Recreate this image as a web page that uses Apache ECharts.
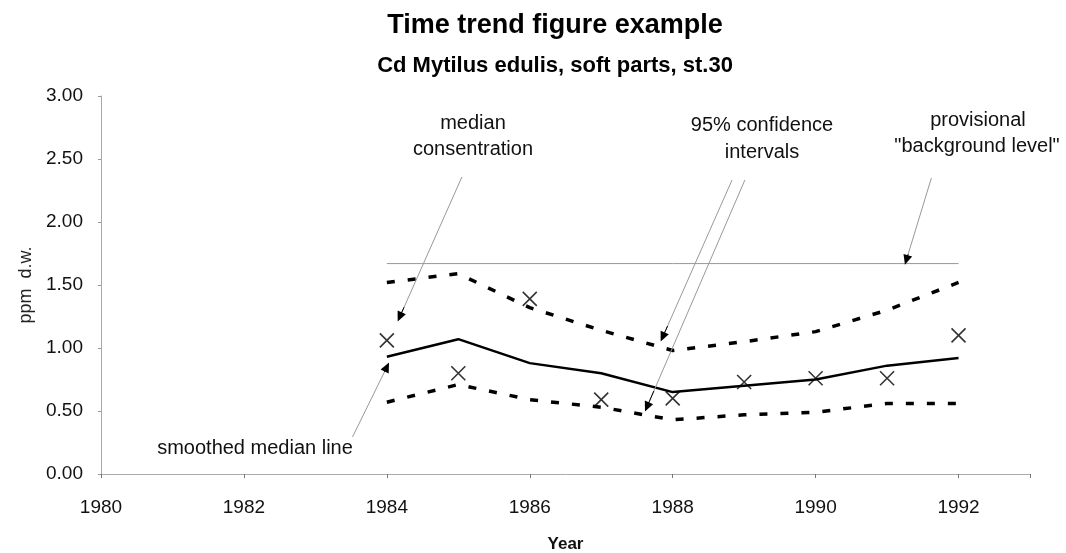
<!DOCTYPE html>
<html>
<head>
<meta charset="utf-8">
<script src="https://cdn.jsdelivr.net/npm/echarts@6/dist/echarts.min.js"></script>
<style>
html,body{margin:0;padding:0;background:#fff;}
#chart{width:1066px;height:553px;}
</style>
</head>
<body>
<div id="chart"></div>
<script>
// ---- data ----
var years = [1984, 1985, 1986, 1987, 1988, 1989, 1990, 1991, 1992];
var observed = [1.06, 0.80, 1.39, 0.59, 0.60, 0.73, 0.76, 0.76, 1.10];
var smoothedMedian = [0.93, 1.07, 0.88, 0.80, 0.65, 0.70, 0.75, 0.86, 0.92];
var upperCI = [1.52, 1.59, 1.32, 1.14, 0.98, 1.05, 1.13, 1.30, 1.52];
var lowerCI = [0.57, 0.71, 0.59, 0.53, 0.43, 0.47, 0.49, 0.56, 0.56];
var backgroundLevel = 1.67;
var backgroundYears = [1984, 1992];
var yTicks = [0, 0.5, 1, 1.5, 2, 2.5, 3];
// annotation arrows in data units: [fromX, fromY, toX, toY]
var arrows = [
  [1985.05, 2.357, 1984.18, 1.246],
  [1983.52, 0.294, 1984.00, 0.849],
  [1988.83, 2.333, 1987.86, 1.087],
  [1989.01, 2.333, 1987.64, 0.532],
  [1991.62, 2.349, 1991.27, 1.698]
];

function pairs(xs, ys){ return xs.map(function(x,i){ return [x, ys[i]]; }); }

var FONT = '"Liberation Sans", Arial, sans-serif';
var chart = echarts.init(document.getElementById('chart'), null, {renderer:'canvas'});

var greyLines = arrows.map(function(a){
  return [{coord:[a[0],a[1]]},{coord:[a[2],a[3]]}];
});
var blackTips = arrows.map(function(a){
  var t = 0.93;
  return [{coord:[a[0]+(a[2]-a[0])*t, a[1]+(a[3]-a[1])*t]},{coord:[a[2],a[3]]}];
});

var option = {
  animation:false,
  backgroundColor:'#fff',
  grid:{left:101,right:36,top:96,bottom:79,containLabel:false,outerBoundsMode:'none'},
  xAxis:{
    type:'value',min:1980,max:1993,interval:2,
    name:'Year',nameLocation:'middle',nameGap:62,
    nameTextStyle:{fontFamily:FONT,fontSize:17,fontWeight:'bold',color:'#111'},
    axisLine:{show:true,lineStyle:{color:'#aaa',width:1}},
    axisTick:{show:true,length:4,lineStyle:{color:'#777'}},
    splitLine:{show:false},
    axisLabel:{fontFamily:FONT,fontSize:19,color:'#111',margin:24,
      formatter:function(v){ return v%2===0 ? String(v) : ''; }}
  },
  yAxis:{
    type:'value',min:yTicks[0],max:yTicks[yTicks.length-1],interval:0.5,
    name:'ppm  d.w.',nameLocation:'middle',nameGap:64,nameRotate:90,
    nameTextStyle:{fontFamily:FONT,fontSize:18,color:'#222'},
    axisLine:{show:true,lineStyle:{color:'#aaa',width:1}},
    axisTick:{show:true,length:3,lineStyle:{color:'#999'}},
    splitLine:{show:false},
    axisLabel:{fontFamily:FONT,fontSize:19,color:'#111',margin:18,
      formatter:function(v){ return v.toFixed(2); }}
  },
  series:[
    {
      type:'line',data:pairs(backgroundYears,[backgroundLevel,backgroundLevel]),
      symbol:'none',lineStyle:{color:'#999',width:1},z:1,
      markLine:{silent:true,symbol:['none','none'],
        lineStyle:{color:'#999',width:1,type:'solid'},label:{show:false},data:greyLines}
    },
    {
      type:'line',data:pairs(years,upperCI),symbol:'none',
      lineStyle:{color:'#000',width:3.5,type:[8,13]},z:3
    },
    {
      type:'line',data:pairs(years,lowerCI),symbol:'none',
      lineStyle:{color:'#000',width:3.5,type:[8,13]},z:3
    },
    {
      type:'line',data:pairs(years,smoothedMedian),symbol:'none',
      lineStyle:{color:'#000',width:2.5},z:3,
      markLine:{silent:true,symbol:['none','triangle'],symbolSize:[9,10],
        lineStyle:{color:'#000',width:1,type:'solid'},label:{show:false},data:blackTips}
    },
    {
      type:'scatter',data:pairs(years,observed),
      symbol:'path://M0,0L10,10M10,0L0,10',symbolSize:14,
      itemStyle:{color:'rgba(0,0,0,0)',borderColor:'#000',borderWidth:1.6},z:4
    }
  ],
  graphic:[
    {type:'text',x:555,y:26,style:{text:'Time trend figure example',font:'bold 27px '+FONT,fill:'#000',textAlign:'center',textVerticalAlign:'middle'}},
    {type:'text',x:555,y:66,style:{text:'Cd Mytilus edulis, soft parts, st.30',font:'bold 22px '+FONT,fill:'#000',textAlign:'center',textVerticalAlign:'middle'}},
    {type:'text',x:473,y:123,style:{text:'median',font:'20px '+FONT,fill:'#111',textAlign:'center',textVerticalAlign:'middle'}},
    {type:'text',x:473,y:149,style:{text:'consentration',font:'20px '+FONT,fill:'#111',textAlign:'center',textVerticalAlign:'middle'}},
    {type:'text',x:762,y:125,style:{text:'95% confidence',font:'20px '+FONT,fill:'#111',textAlign:'center',textVerticalAlign:'middle'}},
    {type:'text',x:762,y:152,style:{text:'intervals',font:'20px '+FONT,fill:'#111',textAlign:'center',textVerticalAlign:'middle'}},
    {type:'text',x:978,y:120,style:{text:'provisional',font:'20px '+FONT,fill:'#111',textAlign:'center',textVerticalAlign:'middle'}},
    {type:'text',x:977,y:146,style:{text:'"background level"',font:'20px '+FONT,fill:'#111',textAlign:'center',textVerticalAlign:'middle'}},
    {type:'text',x:255,y:448,style:{text:'smoothed median line',font:'20px '+FONT,fill:'#111',textAlign:'center',textVerticalAlign:'middle'}}
  ]
};
chart.setOption(option);
</script>
</body>
</html>
